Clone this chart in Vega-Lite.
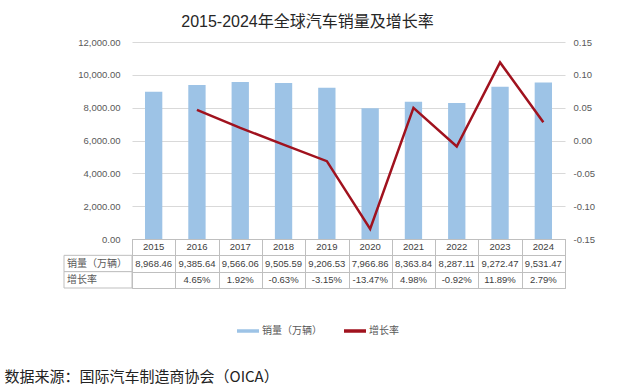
{
  "$schema": "https://vega.github.io/schema/vega-lite/v6.json",
  "padding": {"left": 4, "top": 14, "right": 5, "bottom": 2},
  "background": "white",
  "title": {
    "text": "数据来源：国际汽车制造商协会（OICA）",
    "orient": "bottom",
    "anchor": "start",
    "frame": "bounds",
    "font": "Noto Sans CJK SC",
    "fontSize": 15,
    "fontWeight": "normal",
    "color": "#222222",
    "dx": -59,
    "offset": 32
  },
  "columns": 2,
  "spacing": 0,
  "bounds": "flush",
  "align": "each",
  "config": {
    "view": {"stroke": null},
    "font": "Liberation Sans, Noto Sans CJK SC",
    "axis": {
      "labelFont": "Liberation Sans",
      "labelFontSize": 9.5,
      "labelColor": "#595959"
    },
    "text": {"font": "Liberation Sans, Noto Sans CJK SC", "fontSize": 9.5, "fill": "#404040"},
    "locale": {"number": {"decimal": ".", "thousands": ",", "grouping": [3], "currency": ["$", ""], "minus": "-"}}
  },
  "concat": [
    {
      "width": 68,
      "height": 197,
      "data": {"values": [{"t": " "}]},
      "mark": {"type": "text", "opacity": 0},
      "encoding": {"text": {"field": "t"}}
    },
    {
      "width": 433,
      "height": 197,
      "title": {
        "text": "2015-2024年全球汽车销量及增长率",
        "font": "Liberation Sans, Noto Sans CJK SC",
        "fontSize": 16,
        "fontWeight": "normal",
        "color": "#262626",
        "dx": -41,
        "offset": 7
      },
      "data": {"values": [
        {"year": "2015", "sales": 8968.46, "growth": null},
        {"year": "2016", "sales": 9385.64, "growth": 0.0465},
        {"year": "2017", "sales": 9566.06, "growth": 0.0192},
        {"year": "2018", "sales": 9505.59, "growth": -0.0063},
        {"year": "2019", "sales": 9206.53, "growth": -0.0315},
        {"year": "2020", "sales": 7966.86, "growth": -0.1347},
        {"year": "2021", "sales": 8363.84, "growth": 0.0498},
        {"year": "2022", "sales": 8287.11, "growth": -0.0092},
        {"year": "2023", "sales": 9272.47, "growth": 0.1189},
        {"year": "2024", "sales": 9531.47, "growth": 0.0279}
      ]},
      "layer": [
        {
          "mark": {"type": "bar"},
          "encoding": {
            "x": {"field": "year", "type": "ordinal", "scale": {"paddingInner": 0.6, "paddingOuter": 0.3}, "axis": null},
            "y": {
              "field": "sales", "type": "quantitative",
              "scale": {"domain": [0, 12000], "nice": false},
              "axis": {"values": [0, 2000, 4000, 6000, 8000, 10000, 12000], "format": ",.2f", "grid": true, "gridColor": "#D9D9D9", "domain": false, "ticks": false, "labelPadding": 12, "title": null}
            },
            "color": {
              "datum": "销量（万辆）", "type": "nominal",
              "scale": {"domain": ["销量（万辆）", "增长率"], "range": ["#9DC3E6", "#A0121E"]},
              "legend": {
                "orient": "none", "legendX": 171, "legendY": 276, "direction": "horizontal", "title": null,
                "symbolType": "stroke", "symbolSize": 484, "symbolStrokeWidth": 3.5,
                "labelFont": "Noto Sans CJK SC", "labelFontSize": 10, "labelColor": "#595959",
                "labelOffset": 1, "columnPadding": 15, "padding": 0,
                "encode": {"symbols": {"update": {"stroke": {"scale": "color", "field": "value"}, "strokeWidth": {"value": 3.5}}}}
              }
            }
          }
        },
        {
          "mark": {"type": "line", "strokeWidth": 2.5},
          "encoding": {
            "x": {"field": "year", "type": "ordinal"},
            "y": {
              "field": "growth", "type": "quantitative",
              "scale": {"domain": [-0.15, 0.15], "nice": false},
              "axis": {"orient": "right", "values": [-0.15, -0.1, -0.05, 0, 0.05, 0.1, 0.15], "format": ".2f", "grid": false, "domain": false, "ticks": false, "labelPadding": 8, "title": null}
            },
            "color": {"datum": "增长率", "type": "nominal"}
          }
        }
      ],
      "resolve": {"scale": {"y": "independent"}}
    },
    {
      "width": 68,
      "height": 49,
      "data": {"values": [{"row": "销量（万辆）"}, {"row": "增长率"}]},
      "encoding": {
        "y": {"field": "row", "type": "nominal", "scale": {"domain": ["年份", "销量（万辆）", "增长率"]}, "axis": null}
      },
      "layer": [
        {"mark": {"type": "rect", "fill": "white", "stroke": "#BFBFBF", "strokeWidth": 1}},
        {"mark": {"type": "text", "align": "left", "dx": -31, "font": "Noto Sans CJK SC", "fontSize": 10, "fill": "#595959"}, "encoding": {"text": {"field": "row"}}}
      ]
    },
    {
      "width": 433,
      "height": 49,
      "view": {"stroke": "#BFBFBF"},
      "data": {"values": [
        {"year": "2015", "sales": 8968.46, "growth": null},
        {"year": "2016", "sales": 9385.64, "growth": 0.0465},
        {"year": "2017", "sales": 9566.06, "growth": 0.0192},
        {"year": "2018", "sales": 9505.59, "growth": -0.0063},
        {"year": "2019", "sales": 9206.53, "growth": -0.0315},
        {"year": "2020", "sales": 7966.86, "growth": -0.1347},
        {"year": "2021", "sales": 8363.84, "growth": 0.0498},
        {"year": "2022", "sales": 8287.11, "growth": -0.0092},
        {"year": "2023", "sales": 9272.47, "growth": 0.1189},
        {"year": "2024", "sales": 9531.47, "growth": 0.0279}
      ]},
      "encoding": {
        "x": {"field": "year", "type": "ordinal", "scale": {"paddingInner": 0, "paddingOuter": 0},
              "axis": {"grid": true, "tickBand": "extent", "gridColor": "#BFBFBF", "labels": false, "ticks": false, "domain": false, "title": null}}
      },
      "layer": [
        {
          "mark": {"type": "text"},
          "encoding": {
            "y": {"datum": "年份", "type": "nominal", "scale": {"domain": ["年份", "销量（万辆）", "增长率"]},
                  "axis": {"grid": true, "tickBand": "extent", "gridColor": "#BFBFBF", "labels": false, "ticks": false, "domain": false, "title": null}},
            "text": {"field": "year"}
          }
        },
        {
          "mark": {"type": "text"},
          "encoding": {
            "y": {"datum": "销量（万辆）", "type": "nominal"},
            "text": {"field": "sales", "type": "quantitative", "format": ",.2f"}
          }
        },
        {
          "transform": [{"filter": "isValid(datum.growth)"}],
          "mark": {"type": "text"},
          "encoding": {
            "y": {"datum": "增长率", "type": "nominal"},
            "text": {"field": "growth", "type": "quantitative", "format": ".2%"}
          }
        }
      ]
    }
  ]
}
